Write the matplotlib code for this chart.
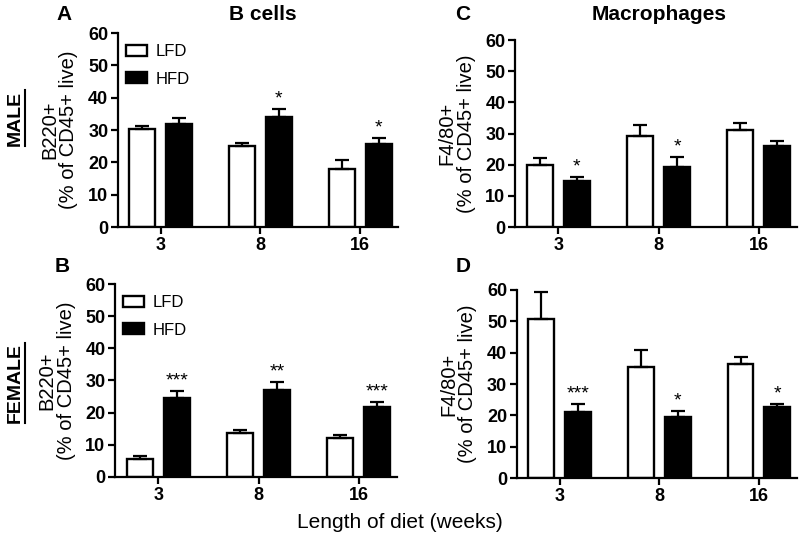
import matplotlib.pyplot as plt
from matplotlib.lines import Line2D
import numpy as np

plt.rcParams['font.family'] = ['Liberation Sans', 'DejaVu Sans']

weeks = ['3', '8', '16']

# panel A: male B cells
male_b_lfd = [30.2, 25.1, 18.0]
male_b_lfd_err = [1.2, 1.0, 2.9]
male_b_hfd = [31.9, 33.9, 25.6]
male_b_hfd_err = [1.7, 2.7, 2.1]
male_b_stars = ['', '*', '*']

# panel C: male macrophages
male_mac_lfd = [20.0, 29.3, 31.3]
male_mac_lfd_err = [2.3, 3.4, 2.2]
male_mac_hfd = [14.9, 19.2, 26.0]
male_mac_hfd_err = [1.3, 3.2, 1.7]
male_mac_stars = ['*', '*', '']

# panel B: female B cells
fem_b_lfd = [5.6, 13.7, 12.1]
fem_b_lfd_err = [1.0, 1.0, 0.9]
fem_b_hfd = [24.4, 27.0, 21.7]
fem_b_hfd_err = [2.3, 2.5, 1.5]
fem_b_stars = ['***', '**', '***']

# panel D: female macrophages
fem_mac_lfd = [50.6, 35.5, 36.3]
fem_mac_lfd_err = [8.8, 5.2, 2.4]
fem_mac_hfd = [21.1, 19.4, 22.6]
fem_mac_hfd_err = [2.5, 2.1, 1.0]
fem_mac_stars = ['***', '*', '*']


def draw_panel(ax, lfd, lfd_err, hfd, hfd_err, stars, ylabel, legend=False):
    x = np.arange(len(weeks))
    w = 0.26
    off = 0.185
    ax.bar(x - off, lfd, w, color='white', edgecolor='black', linewidth=1.7,
           yerr=[np.zeros(len(lfd)), lfd_err], capsize=5,
           error_kw=dict(elinewidth=1.6, capthick=1.6), label='LFD', zorder=2)
    ax.bar(x + off, hfd, w, color='black', edgecolor='black', linewidth=1.7,
           yerr=[np.zeros(len(hfd)), hfd_err], capsize=5,
           error_kw=dict(elinewidth=1.6, capthick=1.6), label='HFD', zorder=2)
    for i, s in enumerate(stars):
        if s:
            ax.annotate(s, (x[i] + off, hfd[i] + hfd_err[i]), xytext=(0, 1),
                        textcoords='offset points', ha='center', va='bottom',
                        fontsize=14)
    ax.set_xlim(-0.43, 2.38)
    ax.set_ylim(0, 60)
    ax.set_yticks(range(0, 61, 10))
    ax.set_xticks(x)
    ax.set_xticklabels(weeks)
    for sp in ['top', 'right']:
        ax.spines[sp].set_visible(False)
    for sp in ['left', 'bottom']:
        ax.spines[sp].set_linewidth(1.6)
    ax.tick_params(width=1.6, length=5, labelsize=13, pad=2)
    for lab in ax.get_xticklabels() + ax.get_yticklabels():
        lab.set_fontweight('bold')
    ax.set_ylabel(ylabel, fontsize=14.5, labelpad=7, linespacing=1.0)
    if legend:
        ax.legend(loc='upper left', bbox_to_anchor=(-0.025, 1.02), frameon=False,
                  fontsize=12, handlelength=1.25, handleheight=0.65,
                  labelspacing=0.75, handletextpad=0.5)


fig = plt.figure(figsize=(8, 5.42), dpi=100)
axA = fig.add_axes([0.1475, 0.581, 0.35, 0.358])
axC = fig.add_axes([0.644, 0.581, 0.352, 0.345])
axB = fig.add_axes([0.144, 0.120, 0.352, 0.356])
axD = fig.add_axes([0.646, 0.118, 0.35, 0.347])

draw_panel(axA, male_b_lfd, male_b_lfd_err, male_b_hfd, male_b_hfd_err,
           male_b_stars, 'B220+\n(% of CD45+ live)', legend=True)
draw_panel(axC, male_mac_lfd, male_mac_lfd_err, male_mac_hfd, male_mac_hfd_err,
           male_mac_stars, 'F4/80+\n(% of CD45+ live)')
draw_panel(axB, fem_b_lfd, fem_b_lfd_err, fem_b_hfd, fem_b_hfd_err,
           fem_b_stars, 'B220+\n(% of CD45+ live)', legend=True)
draw_panel(axD, fem_mac_lfd, fem_mac_lfd_err, fem_mac_hfd, fem_mac_hfd_err,
           fem_mac_stars, 'F4/80+\n(% of CD45+ live)')

# panel letters and titles
for letter, px, py in [('A', 64, 15), ('C', 463, 15), ('B', 62, 266), ('D', 463, 266)]:
    fig.text(px / 800, 1 - py / 542, letter, fontsize=15, fontweight='bold',
             ha='center', va='center')
fig.text(263 / 800, 1 - 15 / 542, 'B cells', fontsize=15, fontweight='bold',
         ha='center', va='center')
fig.text(659 / 800, 1 - 15 / 542, 'Macrophages', fontsize=15, fontweight='bold',
         ha='center', va='center')

# sex labels with underline (line drawn at the right side of the rotated text)
sex_texts = []
for name, py in [('MALE', 118), ('FEMALE', 383)]:
    t = fig.text(15 / 800, 1 - py / 542, name, fontsize=14, fontweight='bold',
                 rotation=90, ha='center', va='center')
    sex_texts.append(t)

fig.text(0.5, 1 - 523 / 542, 'Length of diet (weeks)', fontsize=15,
         ha='center', va='center')

fig.canvas.draw()
renderer = fig.canvas.get_renderer()
for t in sex_texts:
    bb = t.get_window_extent(renderer).transformed(fig.transFigure.inverted())
    xl = bb.x1 + 1.5 / 800
    fig.add_artist(Line2D([xl, xl], [bb.y0, bb.y1], color='black', lw=1.5,
                          transform=fig.transFigure))

fig.savefig('out.png', dpi=100)
